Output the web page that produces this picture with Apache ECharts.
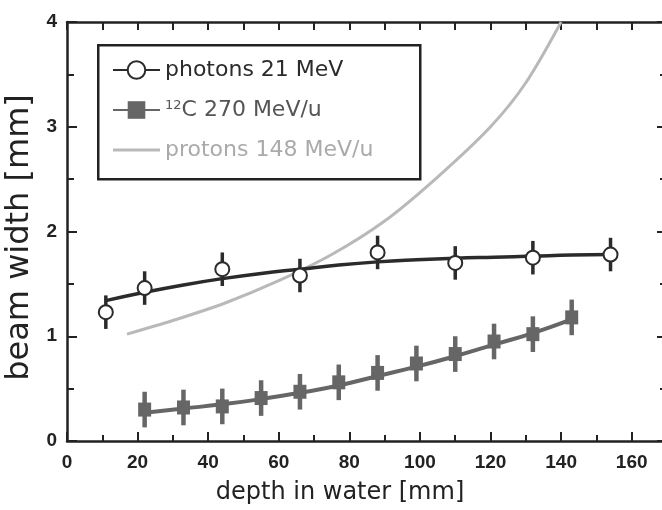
<!DOCTYPE html>
<html>
<head>
<meta charset="utf-8">
<script src="https://cdn.jsdelivr.net/npm/echarts@6/dist/echarts.min.js"></script>
<style>
    html, body { margin: 0; padding: 0; background: #fff; }
    #chart { width: 662px; height: 510px; }
</style>
</head>
<body>
<div id="chart"></div>
<script>
    // photons: measured points + fitted curve
    const photonDepth = [11, 22, 44, 66, 88, 110, 132, 154];
    const photonWidth = [1.23, 1.46, 1.64, 1.58, 1.80, 1.70, 1.75, 1.78];
    const photonErr = [0.16, 0.16, 0.16, 0.16, 0.16, 0.16, 0.16, 0.16];
    const photonFitDepth = [11, 22, 33, 44, 55, 66, 77, 88, 99, 110, 121, 132, 143, 154];
    const photonFitWidth = [1.34, 1.42, 1.49, 1.55, 1.60, 1.64, 1.68, 1.71, 1.73, 1.745, 1.755, 1.765, 1.775, 1.78];

    // carbon 270 MeV/u
    const carbonDepth = [22, 33, 44, 55, 66, 77, 88, 99, 110, 121, 132, 143];
    const carbonWidth = [0.30, 0.32, 0.33, 0.41, 0.47, 0.56, 0.65, 0.74, 0.83, 0.95, 1.02, 1.18];
    const carbonErr = [0.17, 0.17, 0.17, 0.17, 0.17, 0.17, 0.17, 0.17, 0.17, 0.17, 0.17, 0.17];
    const carbonFitWidth = [0.27, 0.31, 0.35, 0.40, 0.46, 0.53, 0.62, 0.71, 0.81, 0.92, 1.03, 1.16];

    // protons 148 MeV/u (curve only)
    const protonDepth = [17, 30, 45, 60, 75, 90, 105, 120, 130, 140];
    const protonWidth = [1.02, 1.15, 1.32, 1.53, 1.78, 2.10, 2.52, 3.00, 3.42, 4.0];

    const seriesNames = ['photons 21 MeV', '12C 270 MeV/u', 'protons 148 MeV/u'];
    const xTickLabels = ['0', '20', '40', '60', '80', '100', '120', '140', '160'];

    const dark = '#2b2b2b';
    const gray = '#666666';
    const light = '#b9b9b9';
    const tickFont = "'Liberation Sans', sans-serif";
    const textFont = "'DejaVu Sans', sans-serif";

    let zip = function (xs, ys) {
        return xs.map((x, i) => [x, ys[i]]);
    };
    let zip3 = function (xs, ys, es) {
        return xs.map((x, i) => [x, ys[i], es[i]]);
    };

    let errorBar = function (color, width) {
        return function (params, api) {
            let top = api.coord([api.value(0), api.value(1) + api.value(2)]);
            let bot = api.coord([api.value(0), api.value(1) - api.value(2)]);
            return {
                type: 'line',
                shape: { x1: top[0], y1: top[1], x2: bot[0], y2: bot[1] },
                style: { stroke: color, lineWidth: width }
            };
        };
    };

    let axisLine = { show: true, onZero: false, lineStyle: { color: '#222', width: 2.5 } };

    let chart = echarts.init(document.getElementById('chart'));

    let option = {
        backgroundColor: '#fff',
        animation: false,
        grid: { left: 67, top: 22, width: 600, height: 419, outerBoundsMode: 'none' },
        graphic: [{
            type: 'rect',
            left: 97, top: 44,
            shape: { width: 322, height: 134 },
            style: { fill: '#fff', stroke: '#222', lineWidth: 2.5 },
            z: 5
        }],
        legend: {
            orient: 'vertical',
            left: 112, top: 59,
            padding: 0,
            itemWidth: 47, itemHeight: 22,
            itemGap: 18, itemTextGap: 8,
            selectedMode: false,
            z: 6,
            textStyle: {
                fontFamily: textFont, fontSize: 22,
                rich: {
                    sup: { fontFamily: textFont, fontSize: 13, padding: [0, 0, 9, 0] }
                }
            },
            formatter: function (name) {
                if (name === seriesNames[1]) return '{sup|12}C 270 MeV/u';
                return name;
            },
            data: [
                { name: seriesNames[0], textStyle: { color: dark } },
                { name: seriesNames[1], textStyle: { color: '#555' } },
                { name: seriesNames[2], icon: 'path://M0 0H47V3H0Z', textStyle: { color: '#aaa' } }
            ]
        },
        xAxis: [{
            type: 'value', min: 0, max: 170, interval: 20,
            position: 'bottom',
            axisLine: axisLine,
            axisTick: { inside: true, length: 9, lineStyle: { color: '#222', width: 2 } },
            minorTick: { show: true, splitNumber: 2, length: 6, lineStyle: { color: '#222', width: 2 } },
            splitLine: { show: false },
            axisLabel: {
                margin: 12, color: '#222', fontFamily: tickFont, fontWeight: 'bold', fontSize: 19,
                formatter: function (v) {
                    let s = String(v);
                    return xTickLabels.indexOf(s) >= 0 ? s : '';
                }
            },
            name: 'depth in water [mm]',
            nameLocation: 'middle',
            nameGap: 40,
            nameTextStyle: { fontFamily: textFont, fontSize: 24, color: '#222', padding: [0, 54, 0, 0] }
        }, {
            type: 'value', min: 0, max: 170, interval: 10,
            position: 'top',
            axisLine: axisLine,
            axisTick: { inside: true, length: 8, lineStyle: { color: '#222', width: 2 } },
            splitLine: { show: false },
            axisLabel: { show: false }
        }],
        yAxis: [{
            type: 'value', min: 0, max: 4, interval: 1,
            position: 'left',
            axisLine: axisLine,
            axisTick: { inside: true, length: 10, lineStyle: { color: '#222', width: 2 } },
            minorTick: { show: true, splitNumber: 2, length: 7, lineStyle: { color: '#222', width: 2 } },
            splitLine: { show: false },
            axisLabel: { margin: 10, color: '#222', fontFamily: tickFont, fontWeight: 'bold', fontSize: 19 },
            name: 'beam width [mm]',
            nameLocation: 'middle',
            nameGap: 30,
            nameTextStyle: { fontFamily: textFont, fontSize: 32, color: '#222', padding: [0, 12, 0, 0] }
        }, {
            type: 'value', min: 0, max: 4, interval: 1,
            position: 'right',
            axisLine: axisLine,
            axisTick: { inside: true, length: 10, lineStyle: { color: '#222', width: 2 } },
            minorTick: { show: true, splitNumber: 2, length: 7, lineStyle: { color: '#222', width: 2 } },
            splitLine: { show: false },
            axisLabel: { show: false }
        }],
        series: [
            {
                name: seriesNames[0], type: 'line', smooth: true,
                symbol: 'emptyCircle', showSymbol: false,
                data: zip(photonFitDepth, photonFitWidth),
                lineStyle: { color: dark, width: 3.5 },
                itemStyle: { color: dark },
                z: 3
            },
            {
                name: seriesNames[1], type: 'line', smooth: true,
                symbol: 'rect', showSymbol: false,
                data: zip(carbonDepth, carbonFitWidth),
                lineStyle: { color: gray, width: 4 },
                itemStyle: { color: gray },
                z: 3
            },
            {
                name: seriesNames[2], type: 'line', smooth: 0.3,
                symbol: 'none',
                data: zip(protonDepth, protonWidth),
                lineStyle: { color: light, width: 3 },
                itemStyle: { color: light },
                z: 2
            },
            {
                type: 'custom',
                data: zip3(photonDepth, photonWidth, photonErr),
                renderItem: errorBar(dark, 3.5),
                z: 2
            },
            {
                type: 'custom',
                data: zip3(carbonDepth, carbonWidth, carbonErr),
                renderItem: errorBar(gray, 4.5),
                z: 2
            },
            {
                type: 'scatter',
                data: zip(photonDepth, photonWidth),
                symbol: 'circle', symbolSize: 14,
                itemStyle: { color: '#fff', borderColor: dark, borderWidth: 2, opacity: 1 },
                z: 4
            },
            {
                type: 'scatter',
                data: zip(carbonDepth, carbonWidth),
                symbol: 'rect', symbolSize: [13, 14],
                itemStyle: { color: gray, opacity: 1 },
                z: 4
            }
        ]
    };

    chart.setOption(option);
</script>
</body>
</html>
